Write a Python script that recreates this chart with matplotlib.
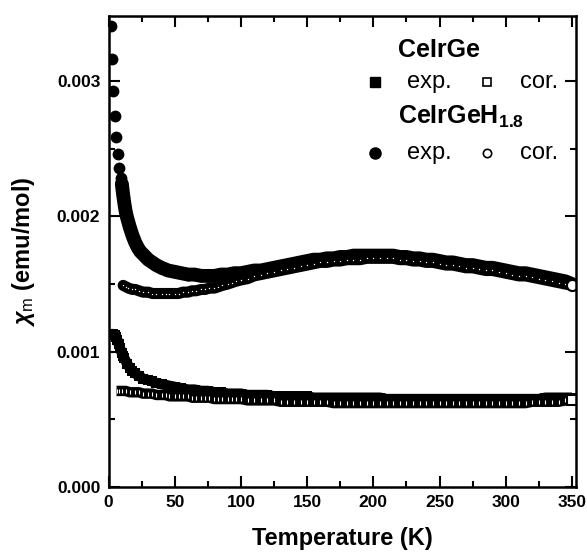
import matplotlib
matplotlib.use('Agg')
import matplotlib.pyplot as plt
from matplotlib.ticker import MultipleLocator, FormatStrFormatter

plt.rcParams['font.family'] = ['Liberation Sans', 'DejaVu Sans']
plt.rcParams['mathtext.fontset'] = 'custom'
plt.rcParams['mathtext.rm'] = 'Liberation Sans'
plt.rcParams['mathtext.it'] = 'Liberation Sans:italic:bold'
plt.rcParams['mathtext.bf'] = 'Liberation Sans:bold'

# CeIrGeH1.8, measured
T_h_exp = [1.6, 2.3, 3.6, 4.8, 5.6, 6.9, 8.1, 9.1, 10, 11, 12, 13, 14, 16, 18, 20,
           22, 24, 26, 28, 30, 33, 36, 40, 45, 50, 55, 60, 65, 70, 75, 80, 85, 90,
           95, 100, 105, 110, 115, 120, 125, 130, 135, 140, 145, 150, 155, 160,
           165, 170, 175, 180, 185, 190, 195, 200, 205, 210, 215, 220, 225, 230,
           235, 240, 245, 250, 255, 260, 265, 270, 275, 280, 285, 290, 295, 300,
           305, 310, 315, 320, 325, 330, 335, 340, 345, 350]
chi_h_exp = [0.00341, 0.00316, 0.00293, 0.00274, 0.00259, 0.00246, 0.00236, 0.00228,
             0.00224, 0.00216, 0.00209, 0.00203, 0.00199, 0.00192, 0.00186, 0.00181,
             0.00177, 0.00174, 0.00172, 0.00170, 0.00168, 0.00166, 0.00164, 0.00162,
             0.00160, 0.00159, 0.00158, 0.00157, 0.00157, 0.00156, 0.00156, 0.00156,
             0.00157, 0.00157, 0.00158, 0.00158, 0.00159, 0.00160, 0.00160, 0.00161,
             0.00162, 0.00163, 0.00164, 0.00165, 0.00166, 0.00167, 0.00168, 0.00168,
             0.00169, 0.00169, 0.00170, 0.00170, 0.00171, 0.00171, 0.00171, 0.00171,
             0.00171, 0.00171, 0.00171, 0.00170, 0.00170, 0.00169, 0.00169, 0.00168,
             0.00168, 0.00167, 0.00166, 0.00166, 0.00165, 0.00164, 0.00164, 0.00163,
             0.00162, 0.00162, 0.00161, 0.00160, 0.00159, 0.00158, 0.00158, 0.00157,
             0.00156, 0.00155, 0.00154, 0.00153, 0.00152, 0.00150]

# CeIrGeH1.8, corrected
T_h_cor = [11, 13, 15, 18, 20, 23, 26, 30, 33, 36, 40, 43, 46, 50, 53, 56, 60, 63,
           66, 70, 73, 76, 80, 83, 86, 90, 93, 96, 100, 105, 110, 115, 120, 125,
           130, 135, 140, 145, 150, 155, 160, 165, 170, 175, 180, 185, 190, 195,
           200, 205, 210, 215, 220, 225, 230, 235, 240, 245, 250, 255, 260, 265,
           270, 275, 280, 285, 290, 295, 300, 305, 310, 315, 320, 325, 330, 335,
           340, 345, 350]
chi_h_cor = [0.00149, 0.00148, 0.00147, 0.00146, 0.00146, 0.00145, 0.00144, 0.00144,
             0.00143, 0.00143, 0.00143, 0.00143, 0.00143, 0.00143, 0.00143, 0.00144,
             0.00144, 0.00145, 0.00145, 0.00146, 0.00146, 0.00147, 0.00147, 0.00148,
             0.00149, 0.00150, 0.00151, 0.00152, 0.00153, 0.00154, 0.00156, 0.00157,
             0.00158, 0.00159, 0.00160, 0.00161, 0.00162, 0.00163, 0.00164, 0.00165,
             0.00166, 0.00166, 0.00167, 0.00167, 0.00168, 0.00168, 0.00168, 0.00169,
             0.00169, 0.00169, 0.00169, 0.00169, 0.00168, 0.00168, 0.00167, 0.00167,
             0.00166, 0.00166, 0.00165, 0.00164, 0.00164, 0.00163, 0.00162, 0.00162,
             0.00161, 0.00160, 0.00160, 0.00159, 0.00158, 0.00157, 0.00156, 0.00156,
             0.00155, 0.00154, 0.00153, 0.00152, 0.00151, 0.00150, 0.00149]

# CeIrGe, measured
T_g_exp = [1.6, 2.5, 3.5, 4.5, 5.5, 6.5, 7.5, 8.5, 10, 11, 12, 14, 16, 18, 20, 23,
           26, 30, 33, 36, 40, 45, 50, 55, 60, 65, 70, 75, 80, 85, 90, 95, 100, 105,
           110, 115, 120, 125, 130, 135, 140, 145, 150, 155, 160, 165, 170, 175,
           180, 185, 190, 195, 200, 205, 210, 215, 220, 225, 230, 235, 240, 245,
           250, 255, 260, 265, 270, 275, 280, 285, 290, 295, 300, 305, 310, 315,
           320, 325, 330, 335, 340, 345, 350]
chi_g_exp = [0.00113, 0.00113, 0.00113, 0.00112, 0.00111, 0.00109, 0.00106, 0.00103,
             0.00099, 0.00097, 0.00095, 0.00091, 0.00088, 0.00086, 0.00084, 0.00082,
             0.00080, 0.00079, 0.00078, 0.00077, 0.00076, 0.00075, 0.00074, 0.00073,
             0.00072, 0.00072, 0.00071, 0.00071, 0.00070, 0.00070, 0.00069, 0.00069,
             0.00069, 0.00068, 0.00068, 0.00068, 0.00068, 0.00067, 0.00067, 0.00067,
             0.00067, 0.00067, 0.00067, 0.00066, 0.00066, 0.00066, 0.00066, 0.00066,
             0.00066, 0.00066, 0.00066, 0.00066, 0.00066, 0.00066, 0.00065, 0.00065,
             0.00065, 0.00065, 0.00065, 0.00065, 0.00065, 0.00065, 0.00065, 0.00065,
             0.00065, 0.00065, 0.00065, 0.00065, 0.00065, 0.00065, 0.00065, 0.00065,
             0.00065, 0.00065, 0.00065, 0.00065, 0.00065, 0.00065, 0.00066, 0.00066,
             0.00066, 0.00066, 0.00066]

# CeIrGe, corrected
T_g_cor = [6, 8, 10, 13, 16, 20, 23, 26, 30, 33, 36, 40, 43, 46, 50, 53, 56, 60, 63,
           66, 70, 73, 76, 80, 83, 86, 90, 93, 96, 100, 105, 110, 115, 120, 125, 130,
           135, 140, 145, 150, 155, 160, 165, 170, 175, 180, 185, 190, 195, 200, 205,
           210, 215, 220, 225, 230, 235, 240, 245, 250, 255, 260, 265, 270, 275, 280,
           285, 290, 295, 300, 305, 310, 315, 320, 325, 330, 335, 340, 345, 350]
chi_g_cor = [0.00071, 0.00071, 0.00071, 0.00071, 0.00070, 0.00070, 0.00070, 0.00069,
             0.00069, 0.00069, 0.00068, 0.00068, 0.00068, 0.00067, 0.00067, 0.00067,
             0.00067, 0.00067, 0.00066, 0.00066, 0.00066, 0.00066, 0.00066, 0.00065,
             0.00065, 0.00065, 0.00065, 0.00065, 0.00065, 0.00065, 0.00064, 0.00064,
             0.00064, 0.00064, 0.00064, 0.00063, 0.00063, 0.00063, 0.00063, 0.00063,
             0.00063, 0.00063, 0.00063, 0.00062, 0.00062, 0.00062, 0.00062, 0.00062,
             0.00062, 0.00062, 0.00062, 0.00062, 0.00062, 0.00062, 0.00062, 0.00062,
             0.00062, 0.00062, 0.00062, 0.00062, 0.00062, 0.00062, 0.00062, 0.00062,
             0.00062, 0.00062, 0.00062, 0.00062, 0.00062, 0.00062, 0.00062, 0.00062,
             0.00062, 0.00063, 0.00063, 0.00063, 0.00063, 0.00063, 0.00064, 0.00064]

fig = plt.figure(figsize=(5.87, 5.55), dpi=100)
ax = fig.add_axes([0.185, 0.1225, 0.796, 0.8485])

# dense measurements overlap into a solid band; a thick line fills the gaps
# between the listed points
n0 = 8  # first point where the CeIrGeH1.8 curve becomes continuous
ax.plot(T_g_exp, chi_g_exp, '-', color='black', lw=7.5, solid_capstyle='butt')
ax.plot(T_g_exp, chi_g_exp, 's', color='black', ms=7.5, mew=0)
ax.plot(T_g_cor, chi_g_cor, '-', color='black', lw=7.5, solid_capstyle='butt')
ax.plot(T_g_cor, chi_g_cor, '|', color='white', ms=3.5, mew=0.8)
ax.plot(T_g_cor[-1:], chi_g_cor[-1:], 's', mfc='white', mec='black', ms=7, mew=1.5)

ax.plot(T_h_exp[n0:], chi_h_exp[n0:], '-', color='black', lw=10, solid_capstyle='round')
ax.plot(T_h_exp, chi_h_exp, 'o', color='black', ms=8.5, mew=0)
ax.plot(T_h_cor, chi_h_cor, '-', color='black', lw=8, solid_capstyle='round')
ax.plot(T_h_cor, chi_h_cor, '.', color='white', ms=2, mew=0)
ax.plot(T_h_cor[-1:], chi_h_cor[-1:], 'o', mfc='white', mec='black', ms=8, mew=1.5)

ax.set_xlim(0, 353)
ax.set_ylim(0, 0.00348)
ax.xaxis.set_major_locator(MultipleLocator(50))
ax.xaxis.set_minor_locator(MultipleLocator(25))
ax.yaxis.set_major_locator(MultipleLocator(0.001))
ax.yaxis.set_minor_locator(MultipleLocator(0.0005))
ax.yaxis.set_major_formatter(FormatStrFormatter('%.3f'))
ax.tick_params(which='both', direction='in', top=True, right=True, width=1.5)
ax.tick_params(which='major', length=8, labelsize=12.5, pad=6)
ax.tick_params(which='minor', length=4)
for lab in ax.get_xticklabels() + ax.get_yticklabels():
    lab.set_fontweight('bold')
for sp in ax.spines.values():
    sp.set_linewidth(1.8)

ax.set_xlabel('Temperature (K)', fontsize=17, fontweight='bold', labelpad=12)
ax.set_ylabel(r'$\chi_{\mathrm{m}}$ (emu/mol)', fontsize=17, fontweight='bold', labelpad=14)

# legend drawn by hand
tr = ax.transAxes
ax.text(0.62, 0.928, 'CeIrGe', transform=tr, fontsize=18, fontweight='bold', va='center')
ax.plot([0.570], [0.860], 's', color='black', ms=7, transform=tr, clip_on=False)
ax.text(0.639, 0.860, 'exp.', transform=tr, fontsize=17, va='center')
ax.plot([0.810], [0.860], 's', mfc='white', mec='black', ms=6, mew=1.2, transform=tr)
ax.text(0.881, 0.860, 'cor.', transform=tr, fontsize=17, va='center')
ax.text(0.62, 0.786, r'CeIrGeH$_{\mathbf{1.8}}$', transform=tr, fontsize=18,
        fontweight='bold', va='center')
ax.plot([0.570], [0.709], 'o', color='black', ms=8, transform=tr)
ax.text(0.639, 0.709, 'exp.', transform=tr, fontsize=17, va='center')
ax.plot([0.810], [0.709], 'o', mfc='white', mec='black', ms=6, mew=1.2, transform=tr)
ax.text(0.881, 0.709, 'cor.', transform=tr, fontsize=17, va='center')

fig.savefig('out.png', dpi=100)
